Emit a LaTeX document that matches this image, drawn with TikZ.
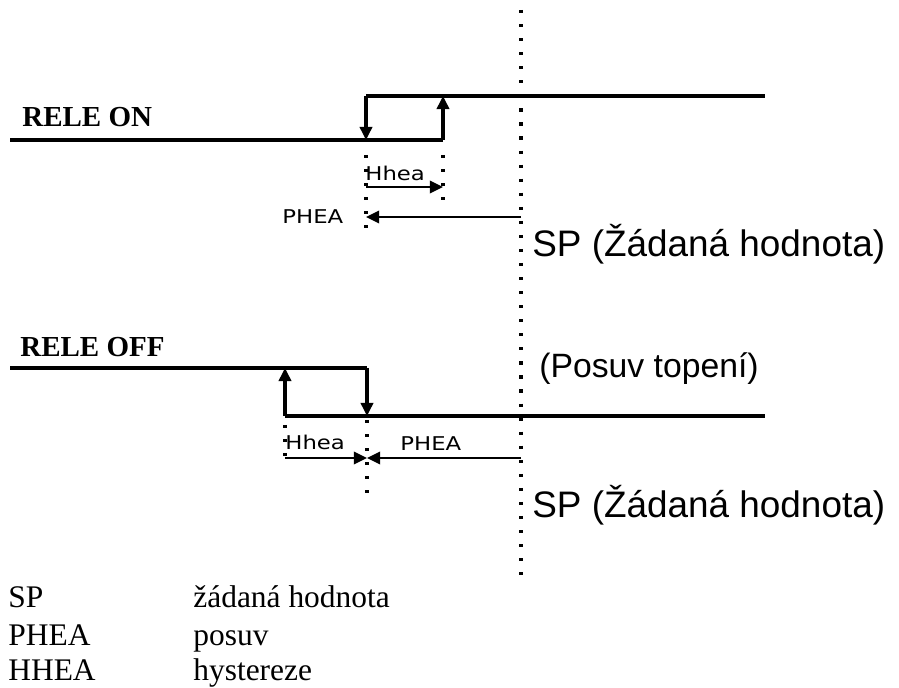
\documentclass[tikz,border=0pt]{standalone}
\usepackage{fontspec}
\setmainfont{Liberation Serif}
\newfontfamily\spfont{Liberation Sans}
\newfontfamily\tagfont{DejaVu Sans}
\usetikzlibrary{arrows.meta}

\tikzset{
	signal/.style={line width=1.8pt},
	edge/.style={line width=1.8pt, -{Triangle[length=7.5pt,width=7pt]}},
	dim/.style={line width=1.5pt, -{Triangle[length=7.5pt,width=7pt]}},
	dotline/.style={line width=1.8pt, dash pattern=on 1.8pt off 6.2pt},
	tag/.style={anchor=base west, inner sep=0pt, font=\tagfont\fontsize{10.8}{12}\selectfont, xscale=1.2},
	title/.style={anchor=base west, inner sep=0pt, font=\bfseries\fontsize{16.5}{18}\selectfont},
	sptext/.style={anchor=base west, inner sep=0pt, font=\spfont\fontsize{21}{24}\selectfont},
	legend/.style={anchor=base west, inner sep=0pt, font=\fontsize{17.9}{20}\selectfont}
}

\begin{document}
\begin{tikzpicture}[x=0.02cm, y=-0.02cm]
	\useasboundingbox (0,0) rectangle (899,688);

	% set point line
	\coordinate (sptop) at (521,10);
	\coordinate (spbot) at (521,578);
	\draw[dotline] (sptop) -- (spbot);

	% RELE ON
	\node[title] (releon) at (22,127) {RELE ON};
	\coordinate (onlowL) at (10,140);
	\coordinate (onlowR) at (443,140);
	\coordinate (onhighL) at (366,96);
	\coordinate (onhighR) at (765,96);
	\coordinate (ondown) at (366,140);
	\coordinate (onup) at (443,96);
	\draw[signal] (onlowL) -- (onlowR);
	\draw[signal] (onhighL) -- (onhighR);
	\draw[edge] (onhighL) -- (ondown);
	\draw[edge] (onlowR) -- (onup);

	\draw[dotline] (366,155) -- (366,232);
	\draw[dotline] (443,155) -- (443,200);

	\coordinate (onhysA) at (366,187);
	\coordinate (onhysB) at (443,187);
	\coordinate (onposA) at (521,217);
	\coordinate (onposB) at (366,217);
	\draw[dim] (onhysA) -- (onhysB);
	\draw[dim] (onposA) -- (onposB);
	\node[tag] (onhys) at (365,181) {Hhea};
	\node[tag] (onpos) at (282,224) {PHEA};
	\node[sptext] (onsp) at (532,257) {SP (Žádaná hodnota)};

	% RELE OFF
	\node[title] (releoff) at (20,357) {RELE OFF};
	\coordinate (offhighL) at (10,368);
	\coordinate (offhighR) at (367,368);
	\coordinate (offlowL) at (285,416);
	\coordinate (offlowR) at (765,416);
	\coordinate (offdown) at (367,416);
	\coordinate (offup) at (285,368);
	\draw[signal] (offhighL) -- (offhighR);
	\draw[signal] (offlowL) -- (offlowR);
	\draw[edge] (offhighR) -- (offdown);
	\draw[edge] (offlowL) -- (offup);

	\draw[dotline] (367,420) -- (367,495);
	\draw[dotline] (285,425) -- (285,458);

	\coordinate (offhysA) at (285,458);
	\coordinate (offmid) at (367,458);
	\coordinate (offposA) at (521,458);
	\draw[dim] (offhysA) -- (offmid);
	\draw[dim] (offposA) -- (offmid);
	\node[tag] (offhys) at (285,450) {Hhea};
	\node[tag] (offpos) at (400,451) {PHEA};
	\node[sptext, font=\spfont\fontsize{19.2}{22}\selectfont] (posuv) at (539,378) {(Posuv topení)};
	\node[sptext] (offsp) at (532,518) {SP (Žádaná hodnota)};

	% legend
	\node[legend] (lsp) at (8,608) {SP};
	\node[legend] (lphea) at (8,645) {PHEA};
	\node[legend] (lhhea) at (8,680) {HHEA};
	\node[legend] (dsp) at (193,608) {žádaná hodnota};
	\node[legend] (dphea) at (193,645) {posuv};
	\node[legend] (dhhea) at (193,680) {hystereze};
\end{tikzpicture}
\end{document}
